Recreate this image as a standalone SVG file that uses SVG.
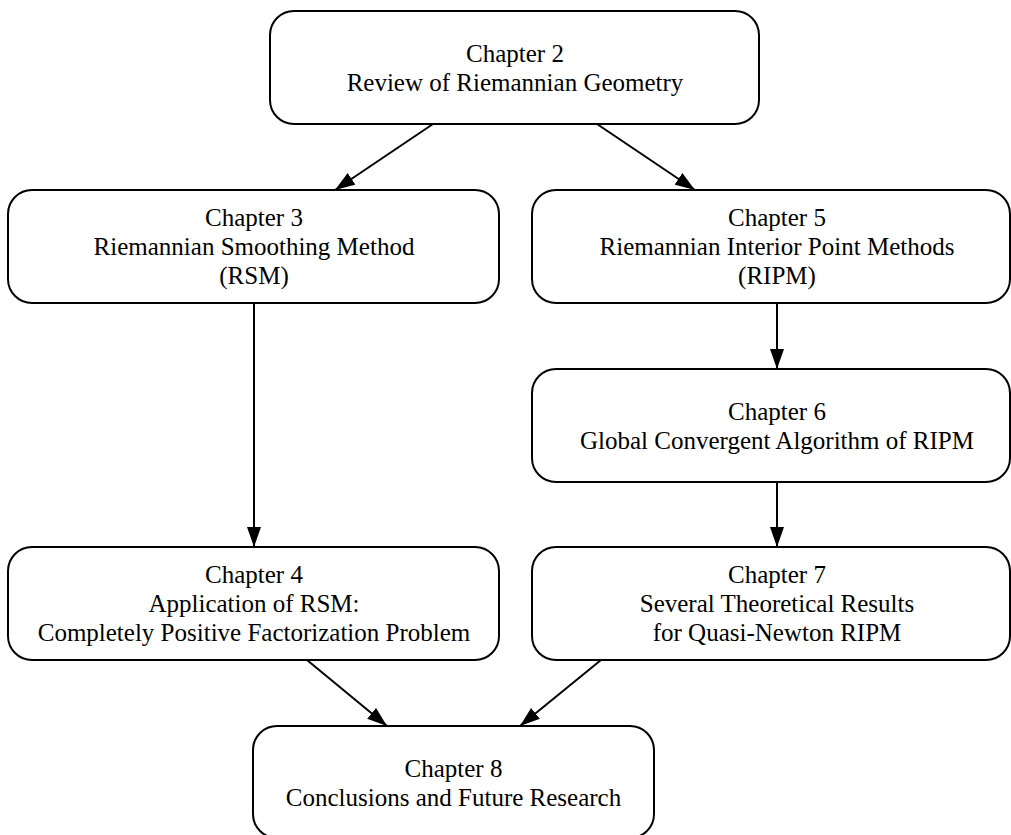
<svg xmlns="http://www.w3.org/2000/svg" width="1011" height="835" viewBox="0 0 1011 835">
<style>
.box{fill:#fff;stroke:#000;stroke-width:2}
.t{font-family:"Liberation Serif","Times New Roman",serif;font-size:25px;fill:#000;text-anchor:middle}
.e{stroke:#000;stroke-width:2;fill:none;marker-end:url(#ah)}
</style>
<defs>
<marker id="ah" markerUnits="userSpaceOnUse" markerWidth="20" markerHeight="14" viewBox="0 0 20 14" refX="20" refY="7" orient="auto">
<path d="M0,0 L20,7 L0,14 Z" fill="#000"/>
</marker>
</defs>
<rect width="1011" height="835" fill="#fff"/>
<g id="connectors">
<line class="e" x1="433" y1="124" x2="335" y2="190"/>
<line class="e" x1="597" y1="124" x2="695" y2="190"/>
<line class="e" x1="254" y1="303" x2="254" y2="547"/>
<line class="e" x1="777" y1="303" x2="777" y2="369"/>
<line class="e" x1="777" y1="482" x2="777" y2="547"/>
<line class="e" x1="307" y1="660" x2="387" y2="726"/>
<line class="e" x1="601" y1="660" x2="520" y2="726"/>
</g>
<g id="ch2">
<rect class="box" x="270" y="11" width="489" height="113" rx="24"/>
<text class="t" x="515" y="61.5">Chapter 2</text>
<text class="t" x="515" y="90.5">Review of Riemannian Geometry</text>
</g>
<g id="ch3">
<rect class="box" x="8" y="190" width="491" height="113" rx="24"/>
<text class="t" x="254" y="226">Chapter 3</text>
<text class="t" x="254" y="255">Riemannian Smoothing Method</text>
<text class="t" x="254" y="284">(RSM)</text>
</g>
<g id="ch5">
<rect class="box" x="532" y="190" width="478" height="113" rx="24"/>
<text class="t" x="777" y="226">Chapter 5</text>
<text class="t" x="777" y="255">Riemannian Interior Point Methods</text>
<text class="t" x="777" y="284">(RIPM)</text>
</g>
<g id="ch6">
<rect class="box" x="532" y="369" width="478" height="113" rx="24"/>
<text class="t" x="777" y="419.5">Chapter 6</text>
<text class="t" x="777" y="448.5">Global Convergent Algorithm of RIPM</text>
</g>
<g id="ch4">
<rect class="box" x="8" y="547" width="491" height="113" rx="24"/>
<text class="t" x="254" y="583">Chapter 4</text>
<text class="t" x="254" y="612">Application of RSM:</text>
<text class="t" x="254" y="641">Completely Positive Factorization Problem</text>
</g>
<g id="ch7">
<rect class="box" x="532" y="547" width="478" height="113" rx="24"/>
<text class="t" x="777" y="583">Chapter 7</text>
<text class="t" x="777" y="612">Several Theoretical Results</text>
<text class="t" x="777" y="641">for Quasi-Newton RIPM</text>
</g>
<g id="ch8">
<rect class="box" x="253" y="726" width="401" height="112" rx="24"/>
<text class="t" x="453.5" y="776.5">Chapter 8</text>
<text class="t" x="453.5" y="805.5">Conclusions and Future Research</text>
</g>
</svg>
